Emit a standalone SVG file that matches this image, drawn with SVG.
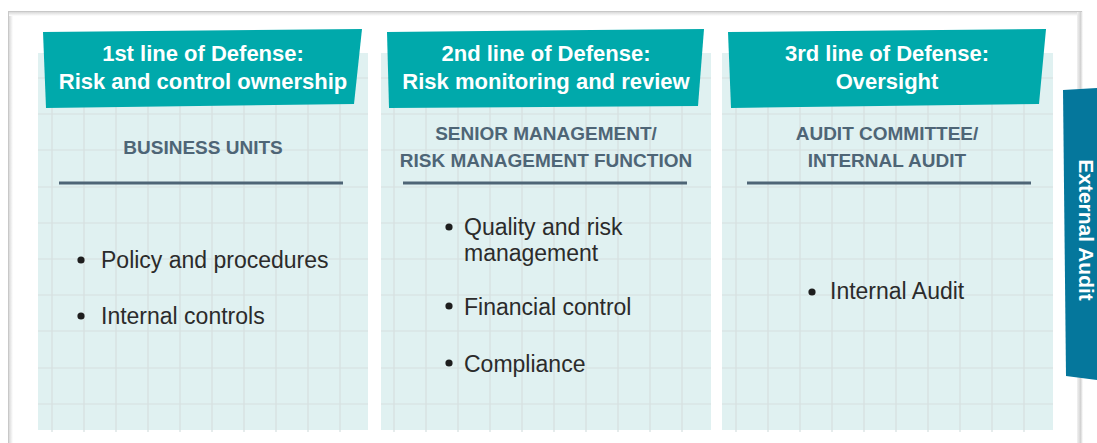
<svg xmlns="http://www.w3.org/2000/svg" width="1097" height="443" viewBox="0 0 1097 443">
  <defs>
    <style>
      .panel { fill: #e0f1f1; }
      .grid line { stroke: #d5dfdf; stroke-width: 1.2; }
      .banner { fill: #00a9ab; }
      .htext { font-family: "Liberation Sans", Arial, sans-serif; font-weight: bold; font-size: 22px; fill: #ffffff; text-anchor: middle; }
      .sub { font-family: "Liberation Sans", Arial, sans-serif; font-weight: bold; font-size: 19px; fill: #4e6576; text-anchor: middle; }
      .rule { stroke: #4e6576; stroke-width: 3; }
      .body { font-family: "Liberation Sans", Arial, sans-serif; font-size: 23px; fill: #2b2b2b; }
      .dot { fill: #1e1e1e; }
    </style>
    <linearGradient id="shadowL" x1="0" x2="1" y1="0" y2="0">
      <stop offset="0" stop-color="#cfcfcf"/>
      <stop offset="1" stop-color="#ffffff"/>
    </linearGradient>
    <linearGradient id="shadowT" x1="0" x2="0" y1="0" y2="1">
      <stop offset="0" stop-color="#cfcfcf"/>
      <stop offset="1" stop-color="#ffffff"/>
    </linearGradient>
    <linearGradient id="shadowR" x1="0" x2="1" y1="0" y2="0">
      <stop offset="0" stop-color="#f2f2f2"/>
      <stop offset="0.6" stop-color="#d2d2d2"/>
      <stop offset="1" stop-color="#ffffff"/>
    </linearGradient>
  </defs>

  <rect x="0" y="0" width="1097" height="443" fill="#ffffff"/>

  <!-- outer frame -->
  <g id="frame">
    <rect x="8" y="11" width="5" height="432" fill="url(#shadowL)"/>
    <rect x="8" y="11" width="1074" height="5" fill="url(#shadowT)"/>
    <rect x="1077" y="11" width="6" height="432" fill="url(#shadowR)"/>
    <line x1="8.5" y1="11" x2="8.5" y2="443" stroke="#c8c8c8" stroke-width="1"/>
    <line x1="8" y1="11.5" x2="1082" y2="11.5" stroke="#c8c8c8" stroke-width="1"/>
  </g>

  <!-- Panel 1 -->
  <g id="panel1">
    <rect class="panel" x="38" y="53" width="330" height="377"/>
    <g class="grid">
      <line x1="52" y1="53" x2="52" y2="432"/><line x1="84" y1="53" x2="84" y2="432"/>
      <line x1="116" y1="53" x2="116" y2="432"/><line x1="148" y1="53" x2="148" y2="432"/>
      <line x1="180" y1="53" x2="180" y2="432"/><line x1="212" y1="53" x2="212" y2="432"/>
      <line x1="244" y1="53" x2="244" y2="432"/><line x1="276" y1="53" x2="276" y2="432"/>
      <line x1="308" y1="53" x2="308" y2="432"/><line x1="340" y1="53" x2="340" y2="432"/>
      <line x1="38" y1="78" x2="368" y2="78"/><line x1="38" y1="114" x2="368" y2="114"/>
      <line x1="38" y1="150" x2="368" y2="150"/><line x1="38" y1="187" x2="368" y2="187"/>
      <line x1="38" y1="223" x2="368" y2="223"/><line x1="38" y1="259" x2="368" y2="259"/>
      <line x1="38" y1="295" x2="368" y2="295"/><line x1="38" y1="331" x2="368" y2="331"/>
      <line x1="38" y1="368" x2="368" y2="368"/><line x1="38" y1="404" x2="368" y2="404"/>
    </g>
    <polygon class="banner" points="43,32 362,29 354,104 46,108"/>
    <text class="htext" x="203" y="61">1st line of Defense:</text>
    <text class="htext" x="203" y="89">Risk and control ownership</text>
    <text class="sub" x="203" y="154">BUSINESS UNITS</text>
    <line class="rule" x1="59" y1="183" x2="343" y2="183"/>
    <circle class="dot" cx="81" cy="260" r="3.6"/>
    <text class="body" x="101" y="268">Policy and procedures</text>
    <circle class="dot" cx="81" cy="316" r="3.6"/>
    <text class="body" x="101" y="324">Internal controls</text>
  </g>

  <!-- Panel 2 -->
  <g id="panel2">
    <rect class="panel" x="381" y="53" width="330" height="377"/>
    <g class="grid">
      <line x1="394" y1="53" x2="394" y2="432"/><line x1="426" y1="53" x2="426" y2="432"/>
      <line x1="458" y1="53" x2="458" y2="432"/><line x1="490" y1="53" x2="490" y2="432"/>
      <line x1="522" y1="53" x2="522" y2="432"/><line x1="554" y1="53" x2="554" y2="432"/>
      <line x1="586" y1="53" x2="586" y2="432"/><line x1="618" y1="53" x2="618" y2="432"/>
      <line x1="650" y1="53" x2="650" y2="432"/><line x1="682" y1="53" x2="682" y2="432"/>
      <line x1="381" y1="78" x2="711" y2="78"/><line x1="381" y1="114" x2="711" y2="114"/>
      <line x1="381" y1="150" x2="711" y2="150"/><line x1="381" y1="187" x2="711" y2="187"/>
      <line x1="381" y1="223" x2="711" y2="223"/><line x1="381" y1="259" x2="711" y2="259"/>
      <line x1="381" y1="295" x2="711" y2="295"/><line x1="381" y1="331" x2="711" y2="331"/>
      <line x1="381" y1="368" x2="711" y2="368"/><line x1="381" y1="404" x2="711" y2="404"/>
    </g>
    <polygon class="banner" points="387,32 704,29 698,106 389,108"/>
    <text class="htext" x="546" y="61">2nd line of Defense:</text>
    <text class="htext" x="546" y="89">Risk monitoring and review</text>
    <text class="sub" x="546" y="140">SENIOR MANAGEMENT/</text>
    <text class="sub" x="546" y="167">RISK MANAGEMENT FUNCTION</text>
    <line class="rule" x1="403" y1="183" x2="687" y2="183"/>
    <circle class="dot" cx="449" cy="227" r="3.6"/>
    <text class="body" x="464" y="235">Quality and risk</text>
    <text class="body" x="464" y="261">management</text>
    <circle class="dot" cx="449" cy="306" r="3.6"/>
    <text class="body" x="464" y="315">Financial control</text>
    <circle class="dot" cx="449" cy="363" r="3.6"/>
    <text class="body" x="464" y="372">Compliance</text>
  </g>

  <!-- Panel 3 -->
  <g id="panel3">
    <rect class="panel" x="722" y="53" width="331" height="377"/>
    <g class="grid">
      <line x1="736" y1="53" x2="736" y2="432"/><line x1="768" y1="53" x2="768" y2="432"/>
      <line x1="800" y1="53" x2="800" y2="432"/><line x1="832" y1="53" x2="832" y2="432"/>
      <line x1="864" y1="53" x2="864" y2="432"/><line x1="896" y1="53" x2="896" y2="432"/>
      <line x1="928" y1="53" x2="928" y2="432"/><line x1="960" y1="53" x2="960" y2="432"/>
      <line x1="992" y1="53" x2="992" y2="432"/><line x1="1024" y1="53" x2="1024" y2="432"/>
      <line x1="722" y1="78" x2="1053" y2="78"/><line x1="722" y1="114" x2="1053" y2="114"/>
      <line x1="722" y1="150" x2="1053" y2="150"/><line x1="722" y1="187" x2="1053" y2="187"/>
      <line x1="722" y1="223" x2="1053" y2="223"/><line x1="722" y1="259" x2="1053" y2="259"/>
      <line x1="722" y1="295" x2="1053" y2="295"/><line x1="722" y1="331" x2="1053" y2="331"/>
      <line x1="722" y1="368" x2="1053" y2="368"/><line x1="722" y1="404" x2="1053" y2="404"/>
    </g>
    <polygon class="banner" points="728,32 1046,29 1039,104 731,108"/>
    <text class="htext" x="887" y="61">3rd line of Defense:</text>
    <text class="htext" x="887" y="89">Oversight</text>
    <text class="sub" x="887" y="140">AUDIT COMMITTEE/</text>
    <text class="sub" x="887" y="167">INTERNAL AUDIT</text>
    <line class="rule" x1="747" y1="183" x2="1031" y2="183"/>
    <circle class="dot" cx="812" cy="292" r="3.6"/>
    <text class="body" x="830" y="299">Internal Audit</text>
  </g>

  <!-- External Audit tab -->
  <g id="external-audit">
    <polygon points="1063,90 1097,88 1097,380 1066,376" fill="#05779c"/>
    <text transform="translate(1079,230) rotate(90)" x="0" y="0" font-family="Liberation Sans, Arial, sans-serif" font-weight="bold" font-size="21" fill="#ffffff" text-anchor="middle">External Audit</text>
  </g>

  <g id="connectors"></g>
</svg>
